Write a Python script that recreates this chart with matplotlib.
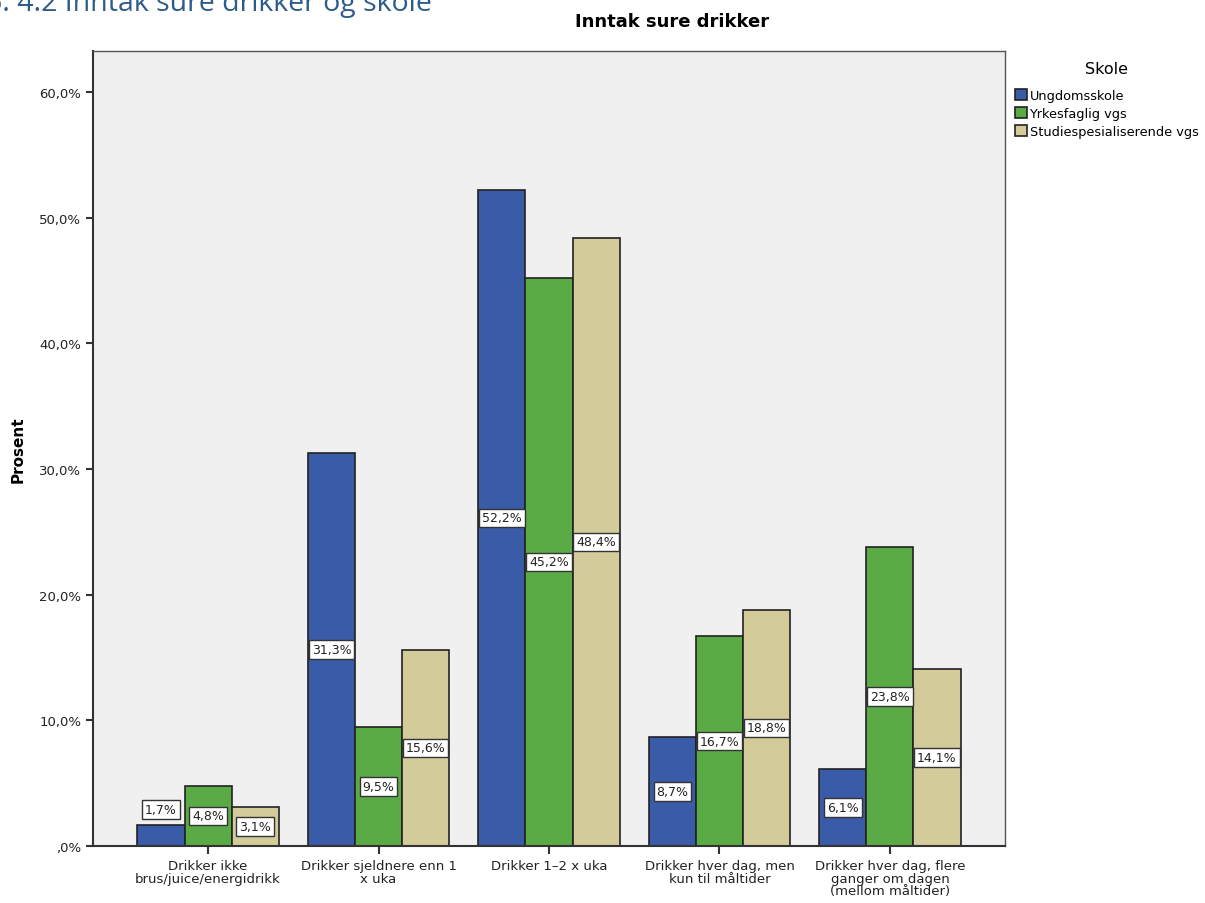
import matplotlib
matplotlib.use("Agg")
import matplotlib.pyplot as plt
import numpy as np
from matplotlib.ticker import FuncFormatter

categories = ["Drikker ikke\nbrus/juice/energidrikk",
              "Drikker sjeldnere enn 1\nx uka",
              "Drikker 1\u20132 x uka",
              "Drikker hver dag, men\nkun til måltider",
              "Drikker hver dag, flere\nganger om dagen\n(mellom måltider)"]
series = ["Ungdomsskole", "Yrkesfaglig vgs", "Studiespesialiserende vgs"]
ungdom = [1.7, 31.3, 52.2, 8.7, 6.1]
yrkes = [4.8, 9.5, 45.2, 16.7, 23.8]
studie = [3.1, 15.6, 48.4, 18.8, 14.1]
colors = ["#3a5ca8", "#5aaa46", "#d3cb9a"]

plt.rcParams['font.family'] = ['DejaVu Sans']

fig = plt.figure(figsize=(12.05, 9.04), dpi=100)
ax = fig.add_axes([93/1205, 1-847/904, 912/1205, 795/904])
ax.set_facecolor("#f0f0f0")

x = np.arange(len(categories))
w = 0.276
for i, (vals, name, col) in enumerate(zip([ungdom, yrkes, studie], series, colors)):
    pos = x + (i-1)*w
    ax.bar(pos, vals, width=w, color=col, edgecolor="#222222", linewidth=1.2, label=name, zorder=2)
    for px, v in zip(pos, vals):
        # small bars get their label lifted above the bar
        ly = v/2 if v/2 > 1.5 else v + 1.2
        txt = ("%.1f%%" % v).replace(".", ",")
        ax.text(px, ly, txt, ha="center", va="center", fontsize=9, color="#222222", zorder=3,
                bbox=dict(boxstyle="square,pad=0.22", fc="white", ec="#333333", lw=1))

ax.set_xlim(-0.675, 4.675)
ax.set_ylim(0, 63.25)
ax.set_yticks([0, 10, 20, 30, 40, 50, 60])
ax.yaxis.set_major_formatter(FuncFormatter(lambda v, p: ",0%" if v == 0 else ("%.1f%%" % v).replace(".", ",")))
ax.set_xticks(x)
ax.set_xticklabels(categories, fontsize=9.5, linespacing=0.95, color="#222222")
ax.tick_params(axis="y", labelsize=9.5, length=5, width=1.5, color="#333333", labelcolor="#222222")
ax.tick_params(axis="x", length=6, width=1.5, color="#333333")
for s in ["left", "bottom"]:
    ax.spines[s].set_linewidth(1.5)
    ax.spines[s].set_color("#333333")
for s in ["top", "right"]:
    ax.spines[s].set_linewidth(1)
    ax.spines[s].set_color("#555555")

ax.set_ylabel("Prosent", fontsize=11, fontweight="bold", labelpad=10)
fig.text(672/1205, 1-22/904, "Inntak sure drikker", ha="center", va="center", fontsize=13, fontweight="bold")
fig.text(-0.012, 1.0 - 4/904, "6. 4.2 Inntak sure drikker og skole", ha="left", va="center",
         fontsize=20.5, color="#2e5c8a", family="Open Sans")

leg = ax.legend(loc="upper left", bbox_to_anchor=(1.0, 1.0), frameon=False, fontsize=9.3,
                title="Skole", title_fontsize=11.5, handlelength=0.9, handleheight=0.9,
                handletextpad=0.2, labelspacing=0.4, borderaxespad=0.2, borderpad=0.6)
leg._legend_box.sep = 9

fig.savefig("out.png", dpi=100)
